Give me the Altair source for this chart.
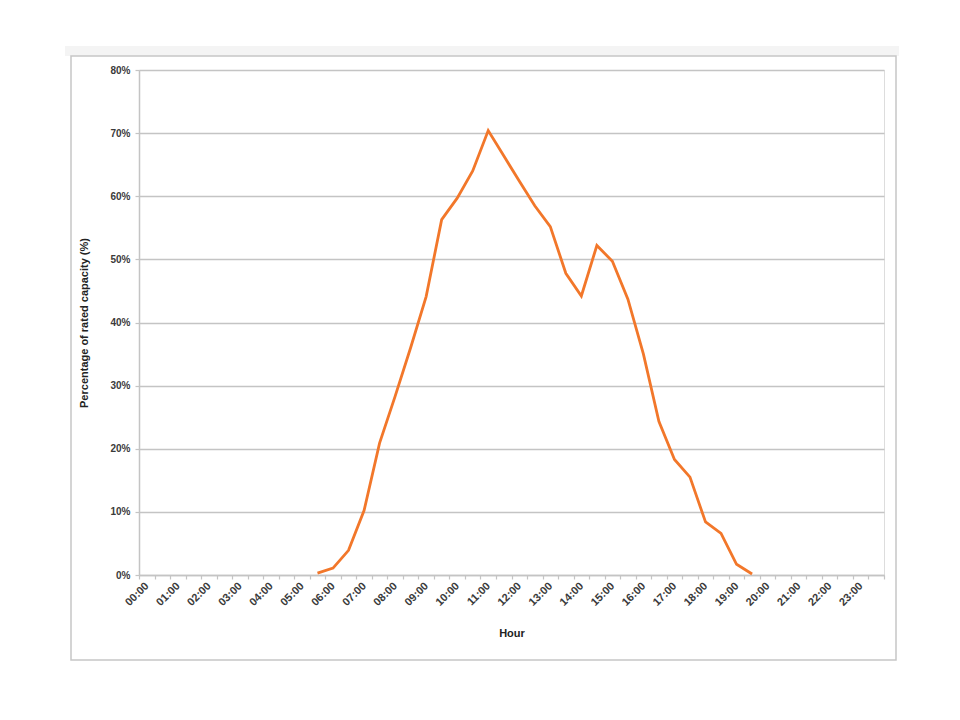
import json
import altair as alt
import pandas as pd

# ---- data ----
hours = ["00:00", "01:00", "02:00", "03:00", "04:00", "05:00", "06:00", "07:00",
         "08:00", "09:00", "10:00", "11:00", "12:00", "13:00", "14:00", "15:00",
         "16:00", "17:00", "18:00", "19:00", "20:00", "21:00", "22:00", "23:00"]

times = ["05:30", "06:00", "06:30", "07:00", "07:30", "08:00", "08:30", "09:00",
         "09:30", "10:00", "10:30", "11:00", "11:30", "12:00", "12:30", "13:00",
         "13:30", "14:00", "14:30", "15:00", "15:30", "16:00", "16:30", "17:00",
         "17:30", "18:00", "18:30", "19:00", "19:30"]

capacity_pct = [0.3, 1.1, 3.9, 10.2, 20.9, 28.3, 36.0, 44.1,
                56.3, 59.7, 64.0, 70.4, 66.4, 62.4, 58.5, 55.2,
                47.8, 44.2, 52.2, 49.7, 43.7, 35.0, 24.3, 18.3,
                15.5, 8.4, 6.6, 1.7, 0.15]

y_ticks = [0, 0.1, 0.2, 0.3, 0.4, 0.5, 0.6, 0.7, 0.8]

# ---- build table ----
df = pd.DataFrame({"time": times, "pct": capacity_pct})
df["slot"] = df["time"].apply(lambda s: int(s[:2]) * 2 + int(s[3:]) // 30 + 0.5)
df["share"] = df["pct"] / 100.0

W, H = 745, 505
FONT = "Liberation Sans"
GRID = "#c4c4c4"

label_expr = ("datum.value % 2 == 0 && datum.value < 48 ? "
              + json.dumps(hours) + "[datum.value / 2] : ''")

one = pd.DataFrame({"k": [0]})

top_strip = alt.Chart(one).mark_rect(fill="#f4f4f4").encode(
    x=alt.value(-74), x2=alt.value(760), y=alt.value(-24), y2=alt.value(-14)
)
frame = alt.Chart(one).mark_rect(filled=False, stroke="#c6c6c6", strokeWidth=1.5).encode(
    x=alt.value(-68), x2=alt.value(757), y=alt.value(-14), y2=alt.value(590)
)

line = alt.Chart(df).mark_line(color="#F2772A", strokeWidth=2.8).encode(
    x=alt.X("slot:Q",
            scale=alt.Scale(domain=[0, 48], nice=False, zero=False),
            axis=alt.Axis(values=list(range(49)), labelExpr=label_expr,
                          labelAngle=-45, labelAlign="right", labelBaseline="middle",
                          labelOffset=7.8, labelPadding=5, labelOverlap=False,
                          labelBound=False, labelFlush=False,
                          labelFont=FONT, labelFontSize=11, labelFontWeight="bold",
                          labelColor="#3a3a3a",
                          ticks=True, tickSize=4, tickColor=GRID, tickWidth=1.2,
                          domainColor=GRID, domainWidth=1.5, grid=False,
                          title="Hour", titleFont=FONT, titleFontSize=11,
                          titleFontWeight="bold", titleColor="#222222",
                          titlePadding=20)),
    y=alt.Y("share:Q",
            scale=alt.Scale(domain=[0, 0.8], nice=False),
            axis=alt.Axis(values=y_ticks, format=".0%",
                          labelFont=FONT, labelFontSize=10, labelFontWeight="bold",
                          labelColor="#3a3a3a", labelPadding=5,
                          ticks=True, tickSize=4, tickColor=GRID, tickWidth=1.2,
                          domainColor=GRID, domainWidth=1.5,
                          grid=True, gridColor=GRID, gridWidth=1.5,
                          title="Percentage of rated capacity (%)", titleFont=FONT,
                          titleFontSize=11, titleFontWeight="bold",
                          titleColor="#222222", titlePadding=20)),
)

chart = alt.layer(top_strip, frame, line).properties(
    width=W, height=H,
    autosize=alt.AutoSizeParams(type="none"),
    padding={"left": 131, "top": 62, "right": 60, "bottom": 130},
).configure_view(stroke=None).configure(background="white")

chart.save("out.html", embed_options={"renderer": "svg", "actions": False})
